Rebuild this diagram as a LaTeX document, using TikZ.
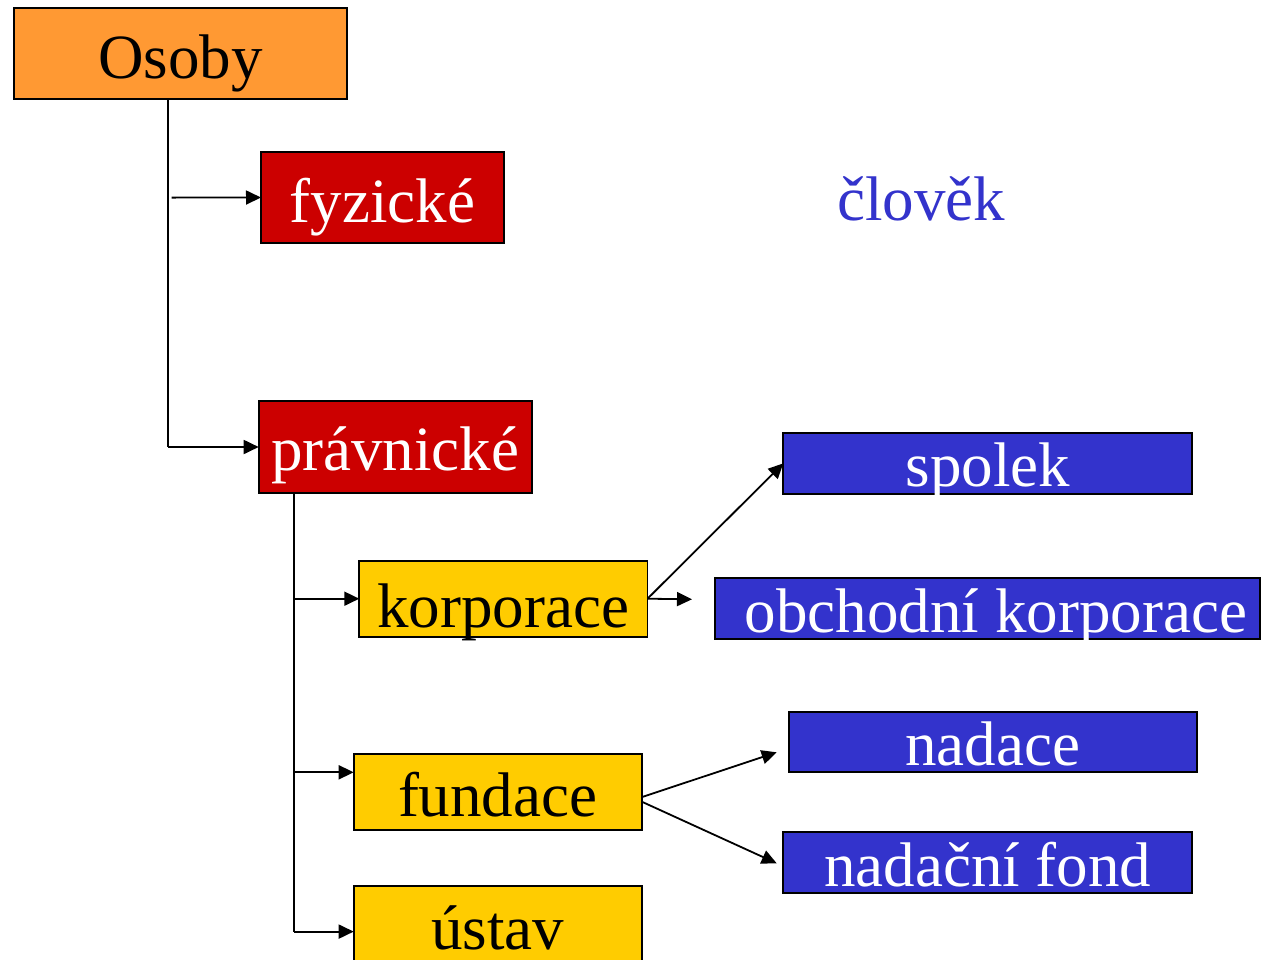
\documentclass[tikz,border=0pt]{standalone}
\usepackage{fontspec}
\setmainfont{Liberation Serif}
\usetikzlibrary{arrows.meta,calc}
\definecolor{orangeO}{HTML}{FF9933}
\definecolor{redR}{HTML}{CC0000}
\definecolor{yellowY}{HTML}{FFCC00}
\definecolor{blueB}{HTML}{3333CC}
\tikzset{
  box/.style={draw=black, line width=1.8pt, inner sep=0pt, outer sep=0pt, anchor=north west,
    font=\fontsize{63}{70}\selectfont},
  orangebox/.style={box, fill=orangeO, text=black},
  redbox/.style={box, fill=redR, text=white},
  yellowbox/.style={box, fill=yellowY, text=black},
  bluebox/.style={box, fill=blueB, text=white},
  conn/.style={line width=1.8pt, draw=black},
  arr/.style={conn, -{Triangle[length=15pt,width=14pt]}},
}
\begin{document}
\begin{tikzpicture}[x=1pt,y=1pt]
\useasboundingbox (0,0) rectangle (1267,-959);
\clip (0,0) rectangle (1267,-959);
\fill[white] (0,0) rectangle (1267,-959);

% boxes
\node[orangebox, minimum width=333.3pt, text height=70.3pt, text depth=21pt] (osoby) at (13.7,-8) {Osoby};
\node[redbox, minimum width=243pt, text height=70pt, text depth=21pt] (fyz) at (261,-152) {fyzické};
\node[redbox, minimum width=273pt, text height=69.4pt, text depth=22pt] (prav) at (258.7,-401.3) {právnické};
\node[yellowbox, minimum width=288.2pt, text height=66.3pt, text depth=9.7pt] (korp) at (359.3,-560.7) {korporace};
\node[yellowbox, minimum width=288pt, text height=62.4pt, text depth=13.3pt] (fund) at (353.7,-754.3) {fundace};
\node[yellowbox, minimum width=288pt, text height=63.6pt, text depth=28.2pt] (ustav) at (353.7,-885.7) {ústav};
\node[bluebox, minimum width=409pt, text height=54pt, text depth=7.3pt] (spolek) at (783.3,-432.7) {spolek};
\node[bluebox, minimum width=545pt, text height=54.6pt, text depth=6.7pt] (obch) at (715,-577.7) {\hspace*{17pt}obchodní korporace};
\node[bluebox, minimum width=408.3pt, text height=53.3pt, text depth=7.3pt] (nadace) at (788.7,-711.7) {nadace};
\node[bluebox, minimum width=408.7pt, text height=54.4pt, text depth=6.6pt] (nfond) at (783.3,-832.3) {nadační fond};

\node[anchor=base, inner sep=0pt, text=blueB, font=\fontsize{63}{70}\selectfont] (clovek) at (921,-220.7) {člověk};

% helper coordinates
\coordinate (trunkA) at (168,0);
\coordinate (trunkB) at (294,0);
\coordinate (fyzstart) at (171.5,-197.6);
\coordinate (korpout) at (692,-599.3);
\coordinate (nadaceend) at (776.7,-752.3);
\coordinate (nfondend) at (776.7,-863.3);

% connectors
\draw[conn] (osoby.south -| trunkA) -- (prav.west -| trunkA);
\draw[arr] (prav.west -| trunkA) -- (prav.west);
\draw[arr] (fyzstart) -- (fyz.west);

\draw[conn] (prav.south -| trunkB) -- (ustav.west -| trunkB);
\draw[arr] (korp.west -| trunkB) -- (korp.west);
\draw[arr] ($(fund.north west -| trunkB)+(0,-18)$) -- ($(fund.north west)+(0,-18)$);
\draw[arr] (ustav.west -| trunkB) -- (ustav.west);

\draw[arr] (korp.east) -- (spolek.west);
\draw[arr] (korp.east) -- (korpout);
\draw[arr] ($(fund.east)+(0,-5)$) -- (nadaceend);
\draw[arr] ($(fund.east)+(0,-9.5)$) -- (nfondend);
\end{tikzpicture}
\end{document}
